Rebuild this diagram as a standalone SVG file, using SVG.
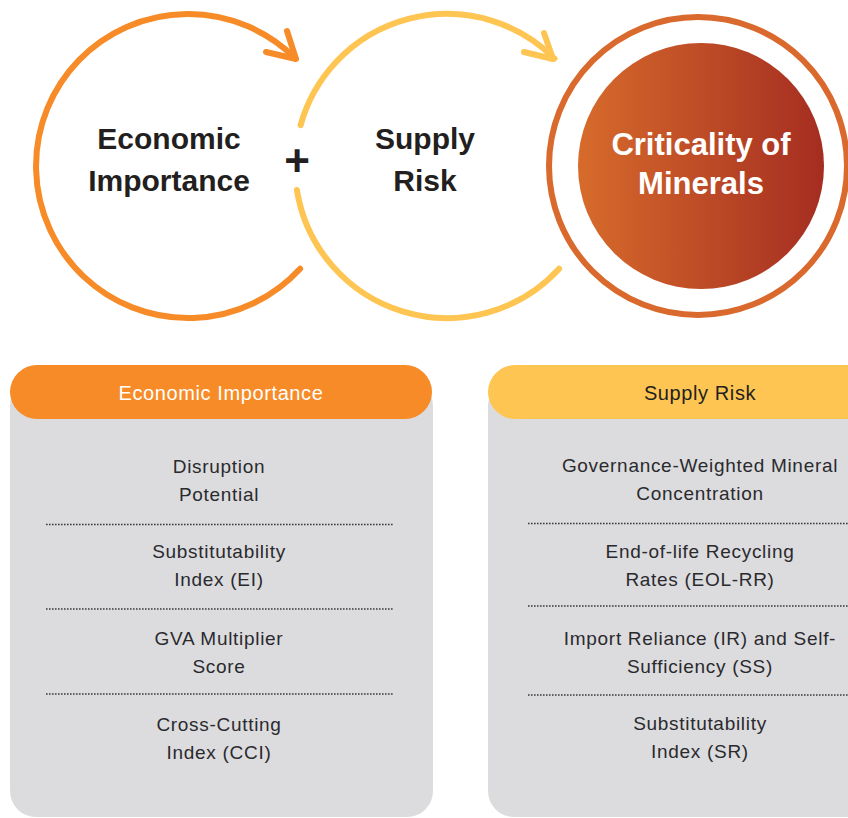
<svg xmlns="http://www.w3.org/2000/svg" width="848" height="818" viewBox="0 0 848 818">
  <defs>
    <linearGradient id="critGrad" x1="0" y1="0" x2="1" y2="0">
      <stop offset="0" stop-color="#D76B2B"/>
      <stop offset="1" stop-color="#A52D21"/>
    </linearGradient>
    <style>
      .ring { fill: none; stroke-width: 6; stroke-linecap: round; stroke-linejoin: round; }
      .orange { stroke: #F68B27; }
      .yellow { stroke: #FEC552; }
      .big { font-family: "Liberation Sans", Arial, sans-serif; font-weight: bold; font-size: 30px; fill: #231F20; text-anchor: middle; }
      .crit { font-family: "Liberation Sans", Arial, sans-serif; font-weight: bold; font-size: 31px; fill: #FFFFFF; text-anchor: middle; }
      .hdr { font-family: "Liberation Sans", Arial, sans-serif; font-size: 20px; letter-spacing: 0.6px; text-anchor: middle; }
      .item { font-family: "Liberation Sans", Arial, sans-serif; font-size: 19px; letter-spacing: 0.7px; fill: #2A2A2E; text-anchor: middle; }
      .body { fill: #DCDCDE; }
      .div { stroke: #3A3A3A; stroke-width: 1.6; stroke-dasharray: 1.6 1.4; fill: none; }
    </style>
  </defs>
  <rect width="848" height="818" fill="#FFFFFF"/>

  <g id="connectors">
    <!-- orange cycle arc with arrow -->
    <path class="ring orange" d="M300.1,268.7 A152,152 0 1 1 295.5,58.5"/>
    <path class="ring orange" d="M287,31 L296,59 L266,52"/>
    <!-- yellow cycle arcs with arrow -->
    <path class="ring yellow" d="M559.1,268.7 A152,152 0 0 1 296.9,190"/>
    <path class="ring yellow" d="M300.6,125.1 A152,152 0 0 1 554.5,58.5"/>
    <path class="ring yellow" d="M544,33 L553,59 L524,52"/>
  </g>

  <g id="economic-importance-circle">
    <text class="big" x="169" y="149">Economic</text>
    <text class="big" x="169" y="191">Importance</text>
  </g>

  <g id="plus">
    <text x="297" y="176" font-family="Liberation Sans, Arial, sans-serif" font-weight="bold" font-size="44" fill="#231F20" text-anchor="middle">+</text>
  </g>

  <g id="supply-risk-circle">
    <text class="big" x="425" y="149">Supply</text>
    <text class="big" x="425" y="191">Risk</text>
  </g>

  <g id="criticality">
    <circle cx="698" cy="166" r="149" fill="none" stroke="#D9692C" stroke-width="6"/>
    <circle cx="701" cy="166" r="123" fill="url(#critGrad)"/>
    <text class="crit" x="701" y="155">Criticality of</text>
    <text class="crit" x="701" y="194">Minerals</text>
  </g>

  <g id="economic-importance-panel">
    <rect class="body" x="10" y="380" width="423" height="437" rx="26"/>
    <rect x="10" y="365" width="422" height="54" rx="27" fill="#F68B27"/>
    <text class="hdr" x="221" y="400" fill="#FFFFFF">Economic Importance</text>
    <text class="item" x="219" y="473">Disruption</text>
    <text class="item" x="219" y="501">Potential</text>
    <line class="div" x1="46" y1="524.5" x2="393" y2="524.5"/>
    <text class="item" x="219" y="558">Substitutability</text>
    <text class="item" x="219" y="586">Index (EI)</text>
    <line class="div" x1="46" y1="609" x2="393" y2="609"/>
    <text class="item" x="219" y="645">GVA Multiplier</text>
    <text class="item" x="219" y="673">Score</text>
    <line class="div" x1="46" y1="694" x2="393" y2="694"/>
    <text class="item" x="219" y="731">Cross-Cutting</text>
    <text class="item" x="219" y="759">Index (CCI)</text>
  </g>

  <g id="supply-risk-panel">
    <rect class="body" x="488" y="380" width="423" height="437" rx="26"/>
    <rect x="488" y="365" width="422" height="54" rx="27" fill="#FEC552"/>
    <text class="hdr" x="700" y="400" fill="#231F20">Supply Risk</text>
    <text class="item" x="700" y="472">Governance-Weighted Mineral</text>
    <text class="item" x="700" y="500">Concentration</text>
    <line class="div" x1="528" y1="523.5" x2="848" y2="523.5"/>
    <text class="item" x="700" y="558">End-of-life Recycling</text>
    <text class="item" x="700" y="586">Rates (EOL-RR)</text>
    <line class="div" x1="528" y1="606" x2="848" y2="606"/>
    <text class="item" x="700" y="645">Import Reliance (IR) and Self-</text>
    <text class="item" x="700" y="673">Sufficiency (SS)</text>
    <line class="div" x1="528" y1="695" x2="848" y2="695"/>
    <text class="item" x="700" y="730">Substitutability</text>
    <text class="item" x="700" y="758">Index (SR)</text>
  </g>
</svg>
